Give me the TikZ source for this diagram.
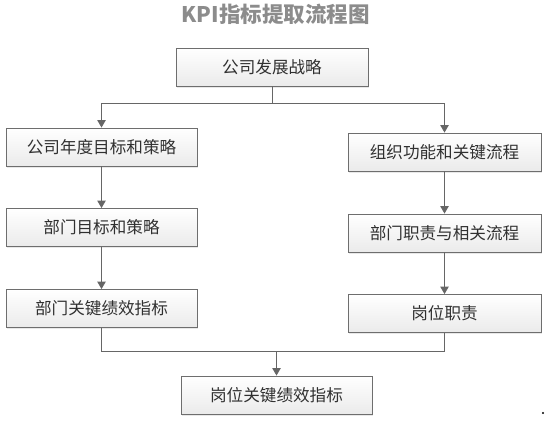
\documentclass[tikz,border=0pt]{standalone}
\usepackage{fontspec}
\setmainfont{Noto Sans CJK SC}
\usepackage{xcolor}
\usetikzlibrary{arrows.meta, shadows, calc}

\definecolor{boxline}{HTML}{6E6E6E}
\definecolor{boxtext}{HTML}{303030}
\definecolor{flowline}{HTML}{666666}
\definecolor{titlegray}{HTML}{8C8C8C}

\tikzset{
    kpibox/.style={draw=boxline, line width=0.9pt, top color=white, bottom color=black!8,
        text=boxtext, font=\fontsize{16.6}{19}\selectfont, inner sep=0pt,
        minimum height=38pt, drop shadow={opacity=0.18, shadow xshift=1pt, shadow yshift=-1.5pt}},
    flow/.style={draw=flowline, line width=0.9pt},
    flowarrow/.style={flow, -{Triangle[width=8.5pt,length=7.5pt]}},
}

\begin{document}
\begin{tikzpicture}[x=1pt, y=-1pt]
        \useasboundingbox (0,0) rectangle (545,420);
        
        \node[text=titlegray, font=\fontsize{21.5}{24}\selectfont\bfseries] (title) at (275.5,14) {KPI指标提取流程图};
        
        \node[kpibox, minimum width=192pt] (strategy) at (272,67) {公司发展战略};
        
        \node[kpibox, minimum width=191pt] (annual) at (101.5,147) {公司年度目标和策略};
        \node[kpibox, minimum width=191pt] (deptgoal) at (101.5,227.5) {部门目标和策略};
        \node[kpibox, minimum width=191pt] (deptkpi) at (101.5,308.5) {部门关键绩效指标};
        
        \node[kpibox, minimum width=193pt] (orgflow) at (444.5,152) {组织功能和关键流程};
        \node[kpibox, minimum width=193pt] (deptduty) at (444.5,233) {部门职责与相关流程};
        \node[kpibox, minimum width=193pt] (postduty) at (444.5,313.5) {岗位职责};
        
        \node[kpibox, minimum width=191pt] (postkpi) at (276.5,395) {岗位关键绩效指标};
        
        \coordinate (splitL) at (101.5,103);
        \coordinate (splitR) at (444.5,103);
        \coordinate (mergeL) at (101.5,351);
        \coordinate (mergeR) at (444.5,351);
        
        \draw[flow] (strategy.south) -- (strategy.south |- splitL);
        \draw[flow] (splitL) -- (splitR);
        \draw[flowarrow] (splitL) -- (annual.north);
        \draw[flowarrow] (splitR) -- (orgflow.north);
        
        \draw[flowarrow] (annual.south) -- (deptgoal.north);
        \draw[flowarrow] (deptgoal.south) -- (deptkpi.north);
        \draw[flowarrow] (orgflow.south) -- (deptduty.north);
        \draw[flowarrow] (deptduty.south) -- (postduty.north);
        
        \draw[flow] (deptkpi.south) -- (mergeL) -- (mergeR) -- (postduty.south);
        \draw[flowarrow] (postkpi.north |- mergeL) -- (postkpi.north);
        
        \fill[black] (543,413) circle (1.2pt);
    \end{tikzpicture}
\end{document}
